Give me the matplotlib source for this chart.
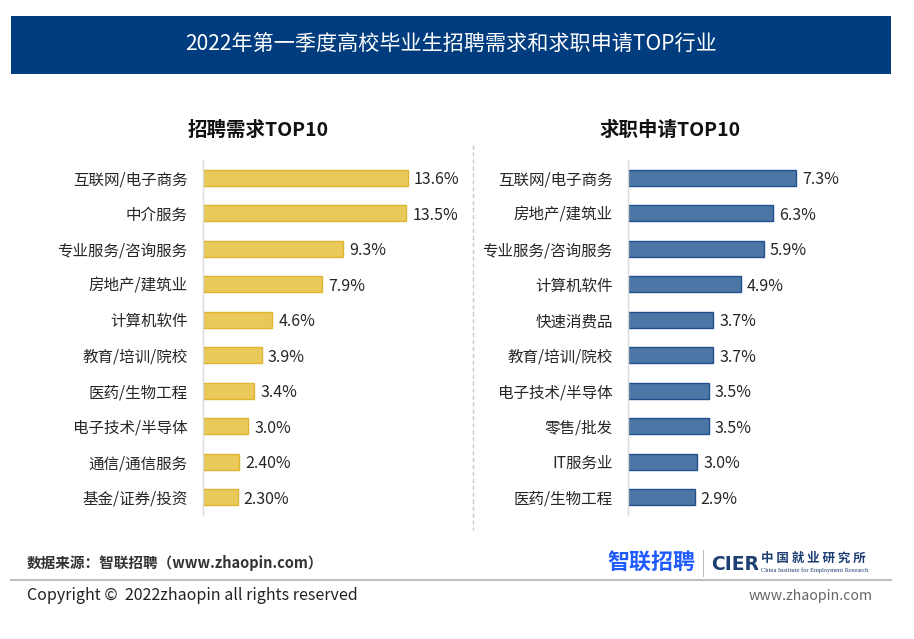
import matplotlib
matplotlib.use("Agg")
import matplotlib.pyplot as plt
from matplotlib.patches import Rectangle
from matplotlib.lines import Line2D

plt.rcParams['font.family'] = ['Noto Sans CJK SC', 'DejaVu Sans']

title = "2022年第一季度高校毕业生招聘需求和求职申请TOP行业"
left_title = "招聘需求TOP10"
right_title = "求职申请TOP10"

left_cats = ["互联网/电子商务", "中介服务", "专业服务/咨询服务", "房地产/建筑业", "计算机软件",
             "教育/培训/院校", "医药/生物工程", "电子技术/半导体", "通信/通信服务", "基金/证券/投资"]
left_vals = [13.6, 13.5, 9.3, 7.9, 4.6, 3.9, 3.4, 3.0, 2.4, 2.3]
left_labels = ["13.6%", "13.5%", "9.3%", "7.9%", "4.6%", "3.9%", "3.4%", "3.0%", "2.40%", "2.30%"]

right_cats = ["互联网/电子商务", "房地产/建筑业", "专业服务/咨询服务", "计算机软件", "快速消费品",
              "教育/培训/院校", "电子技术/半导体", "零售/批发", "IT服务业", "医药/生物工程"]
right_vals = [7.3, 6.3, 5.9, 4.9, 3.7, 3.7, 3.5, 3.5, 3.0, 2.9]
right_labels = ["7.3%", "6.3%", "5.9%", "4.9%", "3.7%", "3.7%", "3.5%", "3.5%", "3.0%", "2.9%"]

W, H = 914, 639
fig = plt.figure(figsize=(W / 100, H / 100), dpi=100)
fig.patch.set_facecolor("white")

def fx(px):
    return px / W

def fy(py):
    return 1 - py / H

# title banner
fig.patches.append(Rectangle((fx(11), fy(74)), fx(880), 58 / H, transform=fig.transFigure,
                             facecolor="#003C7E", edgecolor="none", zorder=0))
fig.text(fx(451), fy(45), title, color="white", fontsize=15.2, ha="center", va="center")

def panel(x0, scale, cats, vals, labels, color, edge, sub, subx):
    width_px = 250
    ax = fig.add_axes([fx(x0), fy(515), width_px / W, 355 / H])
    n = len(cats)
    ax.barh(range(n), vals, height=0.46, color=color, edgecolor=edge, linewidth=1.0)
    ax.set_ylim(n - 0.5, -0.5)
    ax.set_xlim(0, width_px / scale)
    ax.set_yticks(range(n), labels=cats)
    ax.tick_params(axis="y", length=0, pad=11, labelsize=11.2, labelcolor="#262626")
    ax.set_xticks([])
    for s in ["top", "right", "bottom"]:
        ax.spines[s].set_visible(False)
    ax.spines["left"].set_color("#D9D9D9")
    ax.spines["left"].set_linewidth(1.0)
    off = 6 / scale
    for i, (v, lab) in enumerate(zip(vals, labels)):
        ax.text(v + off, i + 0.05, lab, va="center", ha="left", fontsize=11.5, color="#262626")
    ax.patch.set_alpha(0)
    fig.text(fx(subx), fy(130), sub, fontsize=14, fontweight="bold", ha="center", va="center",
             color="#111111")
    return ax

panel(203, 15.07, left_cats, left_vals, left_labels, "#E9C95A", "#DDB530", left_title, 258)
panel(628, 23.0, right_cats, right_vals, right_labels, "#4B76A6", "#234F8A", right_title, 670)

# dashed separator
fig.lines.append(Line2D([fx(473), fx(473)], [fy(145), fy(530)], transform=fig.transFigure,
                        color="#C8C8C8", linewidth=1.0, linestyle=(0, (3, 2))))

# footer
fig.text(fx(27), fy(563), "数据来源：智联招聘（www.zhaopin.com）", fontsize=10.5, fontweight="bold",
         color="#333333", ha="left", va="center")
fig.lines.append(Line2D([fx(11), fx(891)], [fy(580), fy(580)], transform=fig.transFigure,
                        color="#BFBFBF", linewidth=1.5))
fig.text(fx(27), fy(596), "Copyright \u00a9  2022zhaopin all rights reserved", fontsize=11.5,
         color="#222222", ha="left", va="center")
fig.text(fx(873), fy(596), "www.zhaopin.com", fontsize=10.2, color="#666666", ha="right", va="center")

# logos
fig.text(fx(607), fy(563), "智联招聘", fontsize=15.8, fontweight="bold", color="#1F5BFF",
         ha="left", va="center")
fig.lines.append(Line2D([fx(703), fx(703)], [fy(550), fy(576)], transform=fig.transFigure,
                        color="#BBBBBB", linewidth=0.8))
fig.text(fx(711), fy(564), "CIER", fontsize=13.5, fontweight="bold", color="#1D3E73",
         ha="left", va="center", family=["DejaVu Sans"])
fig.text(fx(761), fy(558), "中 国 就 业 研 究 所", fontsize=9, fontweight="bold", color="#1D3E73",
         ha="left", va="center")
fig.text(fx(761), fy(570), "China Institute for Employment Research", fontsize=4.6, color="#1D3E73",
         ha="left", va="center", family=["Liberation Serif", "DejaVu Serif"])

fig.savefig("out.png", dpi=100, facecolor="white")
